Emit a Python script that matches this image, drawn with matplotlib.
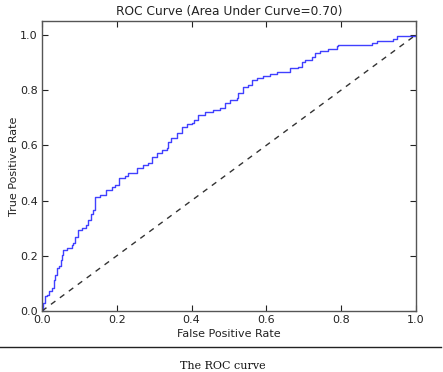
import matplotlib
matplotlib.use("Agg")
import matplotlib.pyplot as plt

# ROC curve vertices (fpr at jump, tpr level after jump)
fpr = [0.000, 0.004, 0.008, 0.013, 0.020, 0.027, 0.031, 0.035, 0.039, 0.045,
       0.050, 0.053, 0.057, 0.066, 0.079, 0.083, 0.088, 0.095, 0.106, 0.118,
       0.123, 0.130, 0.136, 0.142, 0.155, 0.171, 0.186, 0.195, 0.207, 0.222,
       0.231, 0.253, 0.271, 0.284, 0.293, 0.307, 0.320, 0.333, 0.338, 0.344,
       0.360, 0.374, 0.387, 0.400, 0.406, 0.417, 0.436, 0.457, 0.476, 0.489,
       0.503, 0.521, 0.525, 0.537, 0.551, 0.561, 0.574, 0.591, 0.610, 0.628,
       0.663, 0.684, 0.694, 0.703, 0.721, 0.730, 0.743, 0.765, 0.788, 0.792,
       0.882, 0.895, 0.939, 0.948, 1.000]
tpr = [0.000, 0.029, 0.053, 0.058, 0.071, 0.083, 0.112, 0.130, 0.156, 0.163,
       0.185, 0.203, 0.221, 0.228, 0.239, 0.246, 0.268, 0.295, 0.301, 0.312,
       0.330, 0.353, 0.366, 0.413, 0.420, 0.438, 0.450, 0.457, 0.481, 0.487,
       0.499, 0.517, 0.529, 0.535, 0.559, 0.571, 0.583, 0.589, 0.613, 0.626,
       0.644, 0.668, 0.678, 0.680, 0.692, 0.710, 0.722, 0.728, 0.736, 0.754,
       0.764, 0.771, 0.789, 0.810, 0.819, 0.837, 0.843, 0.851, 0.859, 0.867,
       0.879, 0.885, 0.900, 0.909, 0.919, 0.936, 0.943, 0.949, 0.958, 0.964,
       0.972, 0.979, 0.984, 0.996, 1.000]
diag = [0.0, 1.0]
auc = 0.70
ticks = [0.0, 0.2, 0.4, 0.6, 0.8, 1.0]

fig = plt.figure(figsize=(4.43, 3.72), dpi=100, facecolor="white")
ax = fig.add_axes([0.0948, 0.164, 0.8442, 0.7795])
ax.plot(fpr, tpr, color="#4040ff", lw=1.0, drawstyle="steps-post")
ax.plot(diag, diag, color="#333333", ls=(0, (4, 4)), lw=1.0)
ax.set_xlim(0, 1.0)
ax.set_ylim(0, 1.05)
ax.set_xticks(ticks)
ax.set_yticks(ticks)
ax.tick_params(direction="in", length=4, top=True, right=True, labelsize=8,
               colors="#222222", pad=3)
for s in ax.spines.values():
    s.set_color("#555555")
    s.set_linewidth(1.0)
ax.set_xlabel("False Positive Rate", fontsize=8, color="#222222", labelpad=3)
ax.set_ylabel("True Positive Rate", fontsize=8, color="#222222", labelpad=0.5)
ax.set_title("ROC Curve (Area Under Curve=%.2f)" % auc, fontsize=8.8,
             color="#222222", pad=4)

fig.add_artist(plt.Line2D([0.0, 0.995], [1 - 347 / 372, 1 - 347 / 372],
                          color="#222222", lw=1.0, transform=fig.transFigure))
fig.text(0.503, 1 - 366 / 372, "The ROC curve", ha="center", va="center",
         fontsize=8, family="DejaVu Serif", color="#111111")

fig.savefig("out.png", dpi=100, facecolor="white")
